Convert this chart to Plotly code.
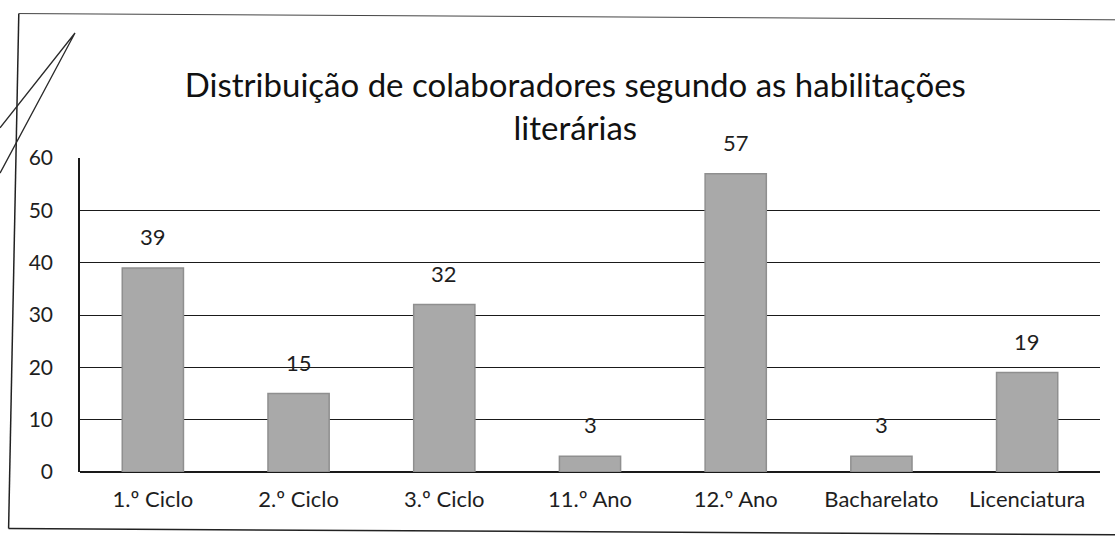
import plotly.graph_objects as go

# Staff distribution by education level
categories = ["1.º Ciclo", "2.º Ciclo", "3.º Ciclo", "11.º Ano", "12.º Ano", "Bacharelato", "Licenciatura"]
counts = [39, 15, 32, 3, 57, 3, 19]
y_ticks = [0, 10, 20, 30, 40, 50, 60]

FONT = "Lato, 'Open Sans', sans-serif"

fig = go.Figure(
    go.Bar(
        x=categories,
        y=counts,
        width=0.42,
        marker=dict(color="#a9a9a9", line=dict(color="#8f8f8f", width=1.5)),
        cliponaxis=False,
    )
)

# value labels floating above each bar
for cat, val in zip(categories, counts):
    fig.add_annotation(
        x=cat, y=val, text=str(val), showarrow=False,
        yanchor="bottom", yshift=16,
        font=dict(family=FONT, size=22, color="#1e1e1e"),
    )

fig.update_layout(
    width=1115,
    height=543,
    margin=dict(l=80, r=15, t=158, b=71),
    paper_bgcolor="white",
    plot_bgcolor="white",
    showlegend=False,
    bargap=0.58,
    title=dict(
        text="Distribuição de colaboradores segundo as habilitações<br>literárias",
        x=0.516,
        xanchor="center",
        y=0.822,
        yanchor="top",
        font=dict(family=FONT, size=33, color="#111"),
    ),
    xaxis=dict(
        tickfont=dict(family=FONT, size=22, color="#1e1e1e"),
        showline=False,
        ticks="",
        ticklabelstandoff=12,
    ),
    yaxis=dict(
        range=[0, 60],
        tickvals=y_ticks,
        tickfont=dict(family=FONT, size=21, color="#1e1e1e"),
        showgrid=True,
        gridcolor="#1a1a1a",
        gridwidth=1.2,
        showline=True,
        linecolor="#1a1a1a",
        linewidth=1.5,
        zeroline=True,
        zerolinecolor="#1a1a1a",
        zerolinewidth=1.5,
        ticks="",
        ticklabelstandoff=21,
    ),
    shapes=[
        # chart-area frame (left, top, bottom)
        dict(type="line", xref="paper", yref="paper", x0=-0.06, x1=-0.07, y0=1.46, y1=-0.18,
             line=dict(color="#222", width=1.5)),
        dict(type="line", xref="paper", yref="paper", x0=-0.06, x1=1.02, y0=1.46, y1=1.44,
             line=dict(color="#444", width=1)),
        dict(type="line", xref="paper", yref="paper", x0=-0.07, x1=1.02, y0=-0.18, y1=-0.2,
             line=dict(color="#222", width=1.5)),
        # hand-drawn pen stroke in the top-left corner
        dict(type="path", xref="paper", yref="paper",
             path="M -0.0784,1.096 L -0.0049,1.398 L -0.0784,0.952",
             line=dict(color="#2a2a2a", width=1.3)),
    ],
)

fig.write_html("out.html")
